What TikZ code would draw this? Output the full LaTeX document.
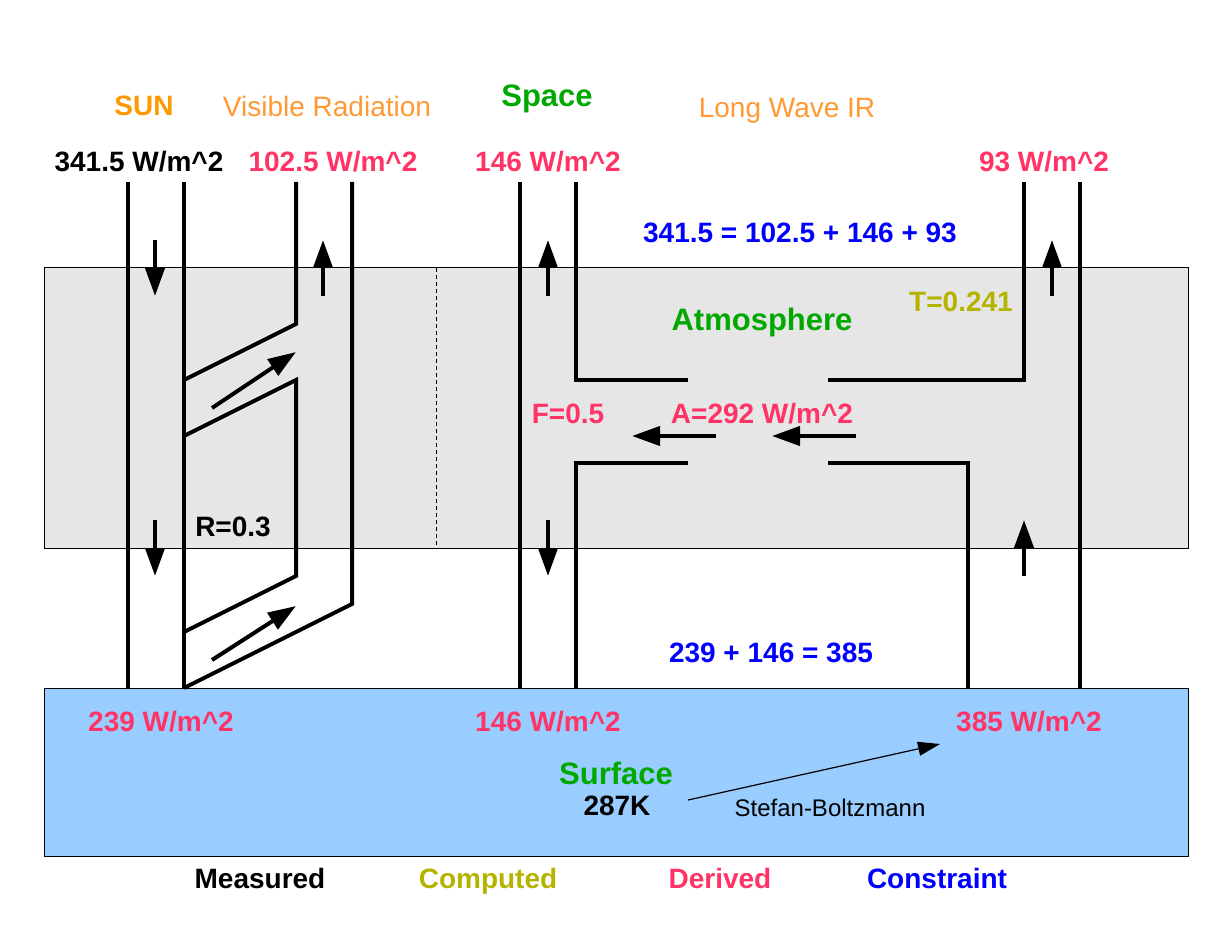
\documentclass[tikz,border=0pt]{standalone}
\usepackage{fontspec}
\setmainfont{Liberation Sans}
\usetikzlibrary{arrows.meta}
\definecolor{sunorange}{HTML}{FF9900}
\definecolor{radorange}{HTML}{FF9933}
\definecolor{derived}{HTML}{FF3366}
\definecolor{region}{HTML}{00A800}
\definecolor{computed}{HTML}{B3B300}
\definecolor{constraint}{HTML}{0000FF}
\definecolor{atmogray}{HTML}{E6E6E6}
\definecolor{surfblue}{HTML}{99CCFF}
\tikzset{
  flux/.style={line width=2pt},
  dir/.style={line width=2pt, -{Triangle[length=14pt,width=9.5pt]}},
  lbl/.style={inner sep=0pt, font=\fontsize{14}{16}\selectfont\bfseries},
  plain/.style={inner sep=0pt, font=\fontsize{14}{16}\selectfont},
  big/.style={inner sep=0pt, text=region, font=\fontsize{15.5}{18}\selectfont\bfseries},
  layer/.style={draw=black, line width=0.5pt}
}
\begin{document}
\begin{tikzpicture}[x=0.5pt, y=-0.5pt]
	\useasboundingbox (0,0) rectangle (1232,952);
	% layers
	\path[layer, fill=atmogray] (44,268) rectangle (1188,548);
	\path[layer, fill=surfblue] (44,688) rectangle (1188,856);
	\draw[line width=0.5pt, dash pattern=on 2pt off 1.5pt] (436,268) -- (436,548);
	% headings
	\path(144,106)  node[lbl, text=sunorange](Sun) {SUN};
	\path(327,106)  node[plain, text=radorange](Vis) {Visible Radiation};
	\path(547,99)   node[big](Space) {Space};
	\path(787,107)  node[plain, text=radorange, anchor=center, yshift=-2pt](LWIR) {Long Wave IR};
	\path(139,162)  node[lbl](Sin) {341.5 W/m\textasciicircum 2};
	\path(333,162)  node[lbl, text=derived](Refl) {102.5 W/m\textasciicircum 2};
	\path(548,162)  node[lbl, text=derived](Wout) {146 W/m\textasciicircum 2};
	\path(1044,162) node[lbl, text=derived](Tout) {93 W/m\textasciicircum 2};
	\path(800,233)  node[lbl, text=constraint](TopSum) {341.5 = 102.5 + 146 + 93};
	% atmosphere
	\path(762,322)  node[big](Atmo) {Atmosphere};
	\path(961,302)  node[lbl, text=computed](T) {T=0.241};
	\path(568,414)  node[lbl, text=derived](F) {F=0.5};
	\path(762,414)  node[lbl, text=derived](A) {A=292 W/m\textasciicircum 2};
	\path(233,527)  node[lbl](R) {R=0.3};
	\path(771,653)  node[lbl, text=constraint](BotSum) {239 + 146 = 385};
	% surface
	\path(161,722)  node[lbl, text=derived](Sabs) {239 W/m\textasciicircum 2};
	\path(548,722)  node[lbl, text=derived](Wback) {146 W/m\textasciicircum 2};
	\path(1029,722) node[lbl, text=derived](Semit) {385 W/m\textasciicircum 2};
	\path(616,773)  node[big](Surf) {Surface};
	\path(617,806)  node[lbl](Temp) {287K};
	\path(830,808)  node[inner sep=0pt, font=\fontsize{12}{14}\selectfont](SB) {Stefan-Boltzmann};
	\coordinate (SBa) at (688,800);
	\coordinate (SBb) at (940,744);
	\draw[line width=0.6pt, -{Triangle[length=11pt,width=7pt]}] (SBa) -- (SBb);
	% legend
	\path(260,878)  node[lbl](Meas) {Measured};
	\path(488,881)  node[lbl, text=computed](Comp) {Computed};
	\path(720,878)  node[lbl, text=derived](Der) {Derived};
	\path(937,878)  node[lbl, text=constraint](Con) {Constraint};
	% visible radiation
	\draw[flux] (128,182) -- (128,688);
	\draw[flux] (184,182) -- (184,688);
	\draw[flux] (296,182) -- (296,324) -- (184,380);
	\draw[flux] (184,436) -- (296,380) -- (296,576) -- (184,632);
	\draw[flux] (352,182) -- (352,604) -- (184,688);
	\draw[dir] (155,240) -- (155,296);
	\draw[dir] (155,520) -- (155,576);
	\draw[dir] (323,296) -- (323,240);
	\draw[dir] (212,408) -- (296,352);
	\draw[dir] (212,660) -- (296,606);
	% long wave
	\draw[flux] (520,182) -- (520,688);
	\draw[flux] (576,182) -- (576,380) -- (688,380);
	\draw[flux] (688,463) -- (576,463) -- (576,688);
	\draw[flux] (828,380) -- (1024,380) -- (1024,182);
	\draw[flux] (828,463) -- (968,463) -- (968,688);
	\draw[flux] (1080,182) -- (1080,688);
	\draw[dir] (548,296) -- (548,240);
	\draw[dir] (548,520) -- (548,576);
	\draw[dir] (716,436) -- (632,436);
	\draw[dir] (856,436) -- (772,436);
	\draw[dir] (1052,296) -- (1052,240);
	\draw[dir] (1024,576) -- (1024,520);
\end{tikzpicture}
\end{document}
